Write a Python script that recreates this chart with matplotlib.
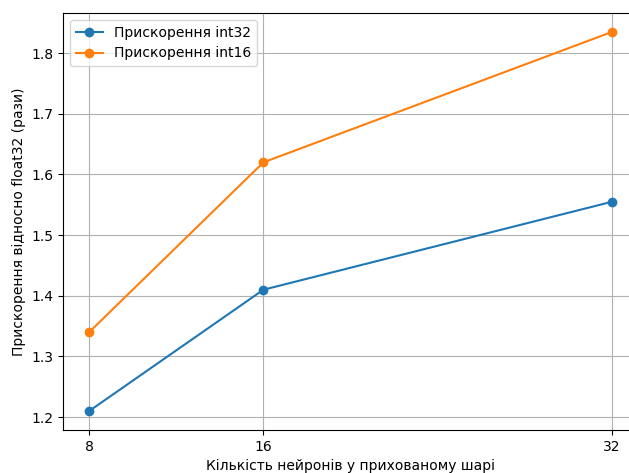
import matplotlib
matplotlib.use('Agg')
import matplotlib.pyplot as plt

neurons = [8, 16, 32]
speedup_int32 = [1.21, 1.41, 1.555]
speedup_int16 = [1.34, 1.62, 1.835]

W, H = 629, 473
fig = plt.figure(figsize=(W / 100, H / 100), dpi=100)
# axes run slightly past the right edge (reference is cropped there)
ax = fig.add_axes([63 / W, (H - 430) / H, (638 - 63) / W, (430 - 13) / H])

ax.plot(neurons, speedup_int32, marker='o', label='Прискорення int32')
ax.plot(neurons, speedup_int16, marker='o', label='Прискорення int16')

ax.set_xticks(neurons)
ax.set_xlabel('Кількість нейронів у прихованому шарі')
ax.set_ylabel('Прискорення відносно float32 (рази)')
ax.grid(True)
ax.legend(loc='upper left')

fig.savefig('out.png', dpi=100)
